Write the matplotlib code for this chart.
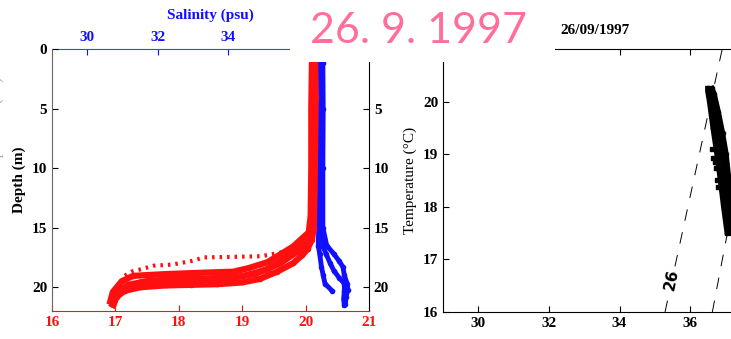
import matplotlib
matplotlib.use("Agg")
import matplotlib.pyplot as plt
from matplotlib.patches import Rectangle

# --- depth profile, temperature casts (deg C vs depth m) ---
temp_depth_a = [1.2, 4, 8, 12, 15.0, 16.0, 16.8, 17.3, 18.0, 18.7, 19.3, 19.6, 19.75, 19.8, 19.85, 20.0, 20.3, 20.8, 21.5]
temp_a = [20.15, 20.16, 20.15, 20.14, 20.13, 20.1, 20.03, 19.95, 19.8, 19.55, 19.28, 19.0, 18.6, 18.2, 17.8, 17.4, 17.15, 17.02, 16.97]
temp_depth_b = [1.2, 5, 10, 14, 15.4, 16.6, 17.9, 18.4, 18.7, 18.8, 18.9, 19.05, 19.5, 20.4, 21.2]
temp_b = [20.1, 20.09, 20.09, 20.08, 20.05, 19.8, 19.4, 19.1, 18.86, 18.3, 17.8, 17.28, 17.1, 16.96, 16.92]
temp_depth_c = [1.2, 6, 11, 15, 16.2, 17.3, 18.5, 19.1, 19.3, 19.4, 19.5, 19.8, 20.6, 21.4]
temp_c = [20.13, 20.13, 20.12, 20.1, 20.02, 19.75, 19.4, 19.0, 18.5, 18.0, 17.5, 17.2, 17.0, 16.95]
temp_depth_e = [15.8, 16.9, 18.0, 18.9, 19.2, 19.3, 19.35, 19.6, 20.2, 21.0]
temp_e = [20.08, 19.9, 19.6, 19.2, 18.8, 18.3, 17.8, 17.4, 17.08, 16.98]
temp_depth_d = [16.0, 16.6, 17.1, 17.4, 17.45, 17.5, 17.8, 18.1, 18.2, 18.5, 18.7, 19.2]
temp_d = [20.05, 19.85, 19.6, 19.3, 18.9, 18.4, 18.2, 17.9, 17.6, 17.4, 17.25, 17.1]

# --- depth profile, salinity casts (psu vs depth m) ---
sal_depth_a = [1.2, 5, 10, 15, 16.0, 16.6, 17.2, 18.0, 18.6, 19.2, 19.7, 20.3, 21.0, 21.5]
sal_a = [36.62, 36.63, 36.63, 36.64, 36.66, 36.7, 36.78, 36.9, 37.0, 37.15, 37.3, 37.3, 37.28, 37.3]
sal_depth_b = [1.2, 5, 10, 15, 16.5, 17.2, 17.8, 18.3, 19.0, 19.7, 20.2, 20.8, 21.4]
sal_b = [36.69, 36.7, 36.69, 36.69, 36.8, 37.0, 37.15, 37.26, 37.3, 37.38, 37.4, 37.35, 37.33]
sal_depth_c = [1.2, 8, 14, 16.5, 17.2, 18.3, 19.0, 19.7, 20.3]
sal_c = [36.56, 36.57, 36.58, 36.56, 36.6, 36.65, 36.7, 36.75, 36.95]

# --- T-S diagram ---
ts_sal_a = [36.5, 36.5, 36.55, 36.65, 36.76, 36.86, 36.95, 37.05]
ts_temp_a = [20.25, 20.2, 20.0, 19.5, 19.0, 18.5, 18.0, 17.5]
ts_sal_b = [36.62, 36.68, 36.8, 36.92, 37.02, 37.1, 37.18, 37.25]
ts_temp_b = [20.25, 20.15, 19.8, 19.4, 19.0, 18.5, 18.0, 17.5]
ts_sal_c = [36.56, 36.6, 36.7, 36.8, 36.9, 36.98, 37.07, 37.15]
ts_temp_c = [20.22, 20.1, 19.8, 19.4, 19.0, 18.5, 18.0, 17.5]
ts_sal_dots = [36.63, 36.64, 36.7, 36.72, 36.75, 36.8]
ts_temp_dots = [19.1, 18.93, 18.85, 18.74, 18.5, 18.38]

# isopycnals (sigma-t)
iso26_sal = [35.29, 36.1, 36.91]
iso26_temp = [16.0, 18.5, 21.0]
iso27_sal = [36.63, 37.34, 38.05]
iso27_temp = [16.0, 18.5, 21.0]

depth_ticks = [0, 5, 10, 15, 20]
temp_ticks = [16, 17, 18, 19, 20, 21]
sal_ticks = [30, 32, 34, 36, 38]
ts_sal_ticks = [30, 32, 34, 36]
ts_temp_ticks = [16, 17, 18, 19, 20]

plt.rcParams["font.family"] = ["Liberation Serif", "DejaVu Serif"]
plt.rcParams["font.size"] = 11

W, H = 731, 339
fig = plt.figure(figsize=(W / 100, H / 100), dpi=100)

RED = "#ff1010"
BLUE = "#1010ff"
LW = 4.5

# ---------- left panel ----------
ax = fig.add_axes([52 / W, 1 - 311 / H, 317 / W, 262 / H])
ax.set_xlim(16, 21)
ax.set_ylim(22, 0)
axs = ax.twiny()
axs.set_xlim(29, 38)

for d, s in [(sal_depth_a, sal_a), (sal_depth_b, sal_b), (sal_depth_c, sal_c)]:
    axs.plot(s, d, color=BLUE, lw=3.5, marker="o", ms=3, solid_joinstyle="round")
for d, t in [(temp_depth_a, temp_a), (temp_depth_b, temp_b), (temp_depth_c, temp_c), (temp_depth_e, temp_e)]:
    ax.plot(t, d, color=RED, lw=LW, marker="o", ms=3, solid_joinstyle="round")
ax.plot(temp_d, temp_depth_d, color=RED, lw=3, ls=(0, (0.6, 1.2)))
axs.set_zorder(0)
ax.set_zorder(1)
ax.patch.set_visible(False)

ax.set_xticks(temp_ticks)
ax.set_yticks(depth_ticks)
ax.tick_params(axis="x", colors=RED, direction="in", length=4, labelsize=11)
ax.tick_params(axis="y", direction="in", length=4, right=True, labelright=True, labelsize=11)
for lab in ax.get_xticklabels() + ax.get_yticklabels():
    lab.set_fontweight("bold")
# the top-right label sits under the date stamp
ax.yaxis.get_major_ticks()[0].label2.set_visible(False)
ax.spines["bottom"].set_color(RED)
ax.spines["top"].set_visible(False)
ax.spines["left"].set_color("#666666")
ax.set_ylabel("Depth (m)", fontweight="bold", labelpad=4)

axs.set_xticks(sal_ticks)
axs.tick_params(axis="x", colors=BLUE, direction="in", length=4, labelsize=11)
for lab in axs.get_xticklabels():
    lab.set_fontweight("bold")
for t in axs.xaxis.get_major_ticks()[3:]:
    t.label2.set_visible(False)
for side in ["bottom", "left", "right"]:
    axs.spines[side].set_visible(False)
axs.spines["top"].set_color("#4040ff")
axs.set_xlabel("Salinity (psu)", color=BLUE, fontweight="bold", labelpad=9)

# ---------- right panel (T-S) ----------
ax2 = fig.add_axes([443 / W, 1 - 312 / H, 317.7 / W, 263 / H])
ax2.set_xlim(29, 38)
ax2.set_ylim(16, 21)
for s, t in [(ts_sal_a, ts_temp_a), (ts_sal_b, ts_temp_b), (ts_sal_c, ts_temp_c)]:
    ax2.plot(s, t, color="black", lw=3.8, marker="o", ms=3, solid_joinstyle="round")
ax2.plot(ts_sal_dots, ts_temp_dots, ls="none", marker="s", ms=2.2, color="black")
ax2.plot(iso26_sal, iso26_temp, color="black", lw=0.7, ls=(0, (12, 12)))
ax2.plot(iso27_sal, iso27_temp, color="black", lw=0.7, ls=(0, (12, 12)))
ax2.text(35.47, 16.61, "26", rotation=78, ha="center", va="center", fontsize=11,
         family=["DejaVu Sans"], fontweight="bold",
         bbox=dict(facecolor="white", edgecolor="none", pad=1))
ax2.set_xticks(ts_sal_ticks)
ax2.set_yticks(ts_temp_ticks)
ax2.tick_params(direction="in", length=4, top=True, labelsize=11)
for lab in ax2.get_xticklabels() + ax2.get_yticklabels():
    lab.set_fontweight("bold")
ax2.set_ylabel("Temperature (\u00b0C)", labelpad=4)

fig.text(560 / W, 1 - 30 / H, "26/09/1997", ha="left", va="center", fontsize=11, fontweight="bold")

# faint remnant at the left edge
fig.text(-0.004, 1 - 130 / H, "Temperature (\u00b0C)", rotation=90, ha="center", va="center",
         color="#aaaaaa", fontsize=11)

# white box with the date stamp over the top
fig.add_artist(Rectangle((290 / W, 1 - 62 / H), 265 / W, 62 / H, transform=fig.transFigure,
                         facecolor="white", edgecolor="none", zorder=5))
fig.text(419 / W, 1 - 43 / H, "26. 9. 1997", ha="center", va="baseline", fontsize=31,
         family=["Lato", "DejaVu Sans"], color="#ff6f9a", zorder=6)

fig.savefig("out.png", dpi=100)
